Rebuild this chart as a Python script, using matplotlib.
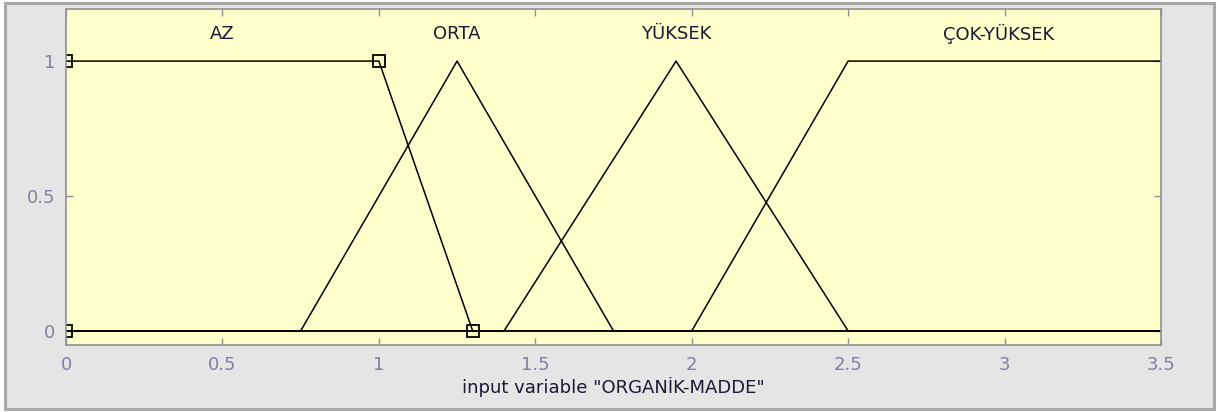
import matplotlib
matplotlib.use("Agg")
import matplotlib.pyplot as plt
from matplotlib.patches import Rectangle

# membership functions of input "ORGANİK-MADDE" (vertex points)
mf_names = ["AZ", "ORTA", "YÜKSEK", "ÇOK-YÜKSEK"]
mf_x = [
    [0.0, 0.0, 1.0, 1.3, 3.5],
    [0.0, 0.75, 1.25, 1.75, 3.5],
    [0.0, 1.4, 1.95, 2.5, 3.5],
    [0.0, 2.0, 2.5, 3.5],
]
mf_y = [
    [1, 1, 1, 0, 0],
    [0, 0, 1, 0, 0],
    [0, 0, 1, 0, 0],
    [0, 0, 1, 1],
]
label_x = [0.5, 1.25, 1.95, 2.98]
label_y = 1.1

# selected MF (AZ) parameter markers
sel_x = [0.0, 0.0, 1.0, 1.3]
sel_y = [0, 1, 1, 0]

xticks = [0, 0.5, 1, 1.5, 2, 2.5, 3, 3.5]
xticklabels = ["0", "0.5", "1", "1.5", "2", "2.5", "3", "3.5"]
yticks = [0, 0.5, 1]
yticklabels = ["0", "0.5", "1"]

plt.rcParams['font.family'] = ['DejaVu Sans']

fig = plt.figure(figsize=(12.18, 4.12), dpi=100, facecolor='white')
frame = Rectangle((5 / 1218, 3 / 412), 1209 / 1218, 406 / 412,
                  transform=fig.transFigure, facecolor='#e5e5e5',
                  edgecolor='#a8a8a8', linewidth=2.2, zorder=-5)
fig.add_artist(frame)

ax = fig.add_axes([66 / 1218, 67 / 412, 1095 / 1218, 336 / 412])
ax.set_facecolor('#ffffcc')

for xs, ys in zip(mf_x, mf_y):
    ax.plot(xs, ys, color='black', linewidth=1.1)

ax.plot(sel_x, sel_y, linestyle='none', marker='s', markersize=9,
        markerfacecolor='none', markeredgecolor='black', markeredgewidth=1.3)

for name, lx in zip(mf_names, label_x):
    ax.text(lx, label_y, name, ha='center', va='center', fontsize=13,
            color='#1a1a33')

ax.set_xlim(0, 3.5)
ax.set_ylim(-0.052, 1.193)
ax.set_xticks(xticks)
ax.set_xticklabels(xticklabels)
ax.set_yticks(yticks)
ax.set_yticklabels(yticklabels)
ax.tick_params(direction='in', length=5, width=1, color='#909090',
               labelcolor='#8080a0', labelsize=13, top=True, right=True,
               pad=8)
for s in ax.spines.values():
    s.set_color('#909090')
    s.set_linewidth(1.2)

ax.set_xlabel('input variable "ORGANİK-MADDE"', fontsize=13,
              color='#1a1a33', labelpad=2)

fig.savefig('out.png', dpi=100, facecolor=fig.get_facecolor())
